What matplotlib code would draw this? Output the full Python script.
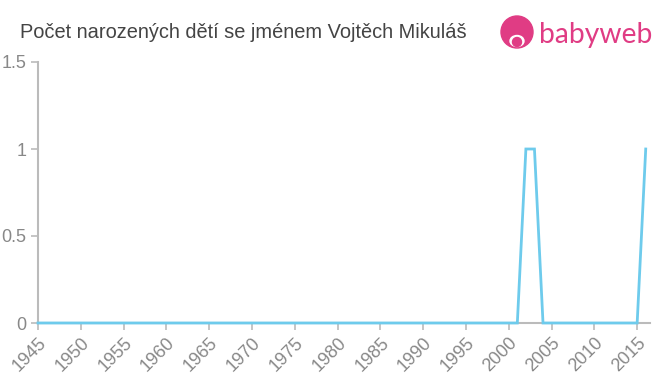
import matplotlib
matplotlib.use("Agg")
import matplotlib.pyplot as plt
from matplotlib.patches import Circle, Ellipse

years = list(range(1945, 2017))
counts = [0] * len(years)
for y, v in [(2002, 1), (2003, 1), (2016, 1)]:
    counts[years.index(y)] = v

xticks = list(range(1945, 2016, 5))
yticks = [0, 0.5, 1, 1.5]
ytick_labels = ["0", "0.5", "1", "1.5"]

plt.rcParams['font.family'] = ['Liberation Sans', 'DejaVu Sans']

fig = plt.figure(figsize=(6.6, 3.75), dpi=100)
ax = fig.add_axes([38/660, 52/375, (650-38)/660, (323-62)/375])
ax.plot(years, counts, color='#6ecbec', lw=2, solid_joinstyle='miter', clip_on=False, zorder=3)
ax.set_xlim(1945, 2016.5)
ax.set_ylim(0, 1.5)
ax.set_xticks(xticks)
ax.set_xticklabels([str(t) for t in xticks], rotation=45, ha='right', rotation_mode='anchor')
ax.set_yticks(yticks)
ax.set_yticklabels(ytick_labels)
for s in ['top', 'right']:
    ax.spines[s].set_visible(False)
for s in ['left', 'bottom']:
    ax.spines[s].set_color('#bbbbbb')
    ax.spines[s].set_linewidth(1.5)
ax.tick_params(colors='#bbbbbb', labelcolor='#888888', labelsize=13, length=5, width=1.2)
ax.tick_params(axis='x', pad=3)

fig.text(20/660, 1 - 33/375, "Počet narozených dětí se jménem Vojtěch Mikuláš",
         fontsize=14.4, color='#444444', va='center', ha='left')

# logo
pink = '#e03c84'
lax = fig.add_axes([0, 0, 1, 1], facecolor='none')
lax.set_xlim(0, 660)
lax.set_ylim(375, 0)
lax.axis('off')
lax.add_patch(Circle((517, 32), 16, color=pink))
lax.add_patch(Ellipse((517, 41), 14, 11, color='white'))
lax.add_patch(Circle((517, 42), 4.5, color=pink))
lax.text(539, 35, "babyweb", color=pink, fontsize=20.3, va='center', ha='left',
         family=['Lato', 'DejaVu Sans'])

fig.savefig("out.png", dpi=100)
